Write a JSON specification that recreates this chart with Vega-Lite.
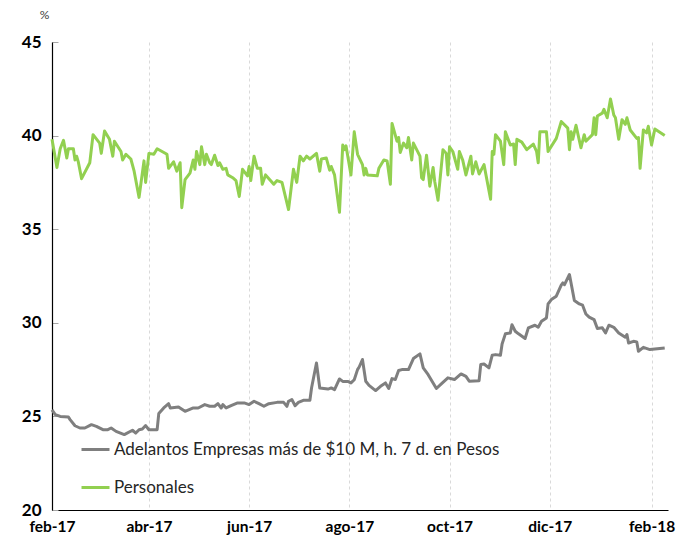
{
  "$schema": "https://vega.github.io/schema/vega-lite/v6.json",
  "width": 616,
  "height": 468,
  "autosize": {"type": "none"},
  "padding": {"left": 52, "top": 42, "right": 23, "bottom": 30},
  "background": "white",
  "config": {
    "view": {"stroke": null},
    "font": "Lato"
  },
  "layer": [
    {
      "data": {"values": [
        {"fecha":"2017-02-01","tasa":25.35},{"fecha":"2017-02-03","tasa":25.1},{"fecha":"2017-02-06","tasa":25.0},{"fecha":"2017-02-11","tasa":24.97},{"fecha":"2017-02-12","tasa":24.83},{"fecha":"2017-02-15","tasa":24.5},{"fecha":"2017-02-18","tasa":24.38},{"fecha":"2017-02-21","tasa":24.38},{"fecha":"2017-02-25","tasa":24.56},{"fecha":"2017-02-28","tasa":24.47},
        {"fecha":"2017-03-04","tasa":24.29},{"fecha":"2017-03-07","tasa":24.29},{"fecha":"2017-03-09","tasa":24.38},{"fecha":"2017-03-12","tasa":24.2},{"fecha":"2017-03-17","tasa":24.03},{"fecha":"2017-03-22","tasa":24.26},{"fecha":"2017-03-24","tasa":24.11},{"fecha":"2017-03-26","tasa":24.29},{"fecha":"2017-03-28","tasa":24.33},{"fecha":"2017-03-30","tasa":24.51},
        {"fecha":"2017-04-01","tasa":24.29},{"fecha":"2017-04-06","tasa":24.29},{"fecha":"2017-04-07","tasa":25.15},{"fecha":"2017-04-10","tasa":25.45},{"fecha":"2017-04-13","tasa":25.68},{"fecha":"2017-04-14","tasa":25.45},{"fecha":"2017-04-19","tasa":25.5},{"fecha":"2017-04-23","tasa":25.27},{"fecha":"2017-04-28","tasa":25.45},
        {"fecha":"2017-05-01","tasa":25.45},{"fecha":"2017-05-05","tasa":25.63},{"fecha":"2017-05-08","tasa":25.54},{"fecha":"2017-05-11","tasa":25.54},{"fecha":"2017-05-13","tasa":25.68},{"fecha":"2017-05-15","tasa":25.45},{"fecha":"2017-05-16","tasa":25.63},{"fecha":"2017-05-18","tasa":25.45},{"fecha":"2017-05-21","tasa":25.57},{"fecha":"2017-05-25","tasa":25.72},{"fecha":"2017-05-29","tasa":25.72},
        {"fecha":"2017-06-01","tasa":25.63},{"fecha":"2017-06-04","tasa":25.81},{"fecha":"2017-06-07","tasa":25.68},{"fecha":"2017-06-10","tasa":25.54},{"fecha":"2017-06-13","tasa":25.68},{"fecha":"2017-06-18","tasa":25.75},{"fecha":"2017-06-22","tasa":25.75},{"fecha":"2017-06-24","tasa":25.54},{"fecha":"2017-06-25","tasa":25.81},{"fecha":"2017-06-27","tasa":25.9},{"fecha":"2017-06-29","tasa":25.57},
        {"fecha":"2017-07-01","tasa":25.75},{"fecha":"2017-07-04","tasa":25.86},{"fecha":"2017-07-08","tasa":25.86},{"fecha":"2017-07-09","tasa":26.52},{"fecha":"2017-07-12","tasa":27.85},{"fecha":"2017-07-14","tasa":26.52},{"fecha":"2017-07-19","tasa":26.46},{"fecha":"2017-07-21","tasa":26.52},{"fecha":"2017-07-23","tasa":26.43},{"fecha":"2017-07-26","tasa":27.0},{"fecha":"2017-07-28","tasa":26.87},{"fecha":"2017-07-31","tasa":26.87},
        {"fecha":"2017-08-02","tasa":26.79},{"fecha":"2017-08-04","tasa":26.96},{"fecha":"2017-08-06","tasa":27.5},{"fecha":"2017-08-07","tasa":27.64},{"fecha":"2017-08-09","tasa":28.04},{"fecha":"2017-08-11","tasa":26.88},{"fecha":"2017-08-13","tasa":26.66},{"fecha":"2017-08-17","tasa":26.38},{"fecha":"2017-08-20","tasa":26.61},{"fecha":"2017-08-23","tasa":26.79},{"fecha":"2017-08-25","tasa":26.49},{"fecha":"2017-08-27","tasa":27.02},{"fecha":"2017-08-29","tasa":26.97},{"fecha":"2017-08-31","tasa":27.45},
        {"fecha":"2017-09-02","tasa":27.5},{"fecha":"2017-09-06","tasa":27.5},{"fecha":"2017-09-09","tasa":28.09},{"fecha":"2017-09-13","tasa":28.34},{"fecha":"2017-09-15","tasa":27.59},{"fecha":"2017-09-18","tasa":27.23},{"fecha":"2017-09-23","tasa":26.49},{"fecha":"2017-09-26","tasa":26.74},{"fecha":"2017-09-30","tasa":27.06},
        {"fecha":"2017-10-04","tasa":26.97},{"fecha":"2017-10-08","tasa":27.27},{"fecha":"2017-10-11","tasa":27.14},{"fecha":"2017-10-13","tasa":26.88},{"fecha":"2017-10-19","tasa":26.91},{"fecha":"2017-10-20","tasa":27.77},{"fecha":"2017-10-22","tasa":27.8},{"fecha":"2017-10-25","tasa":27.59},{"fecha":"2017-10-27","tasa":28.27},{"fecha":"2017-10-29","tasa":28.3},
        {"fecha":"2017-11-01","tasa":28.27},{"fecha":"2017-11-02","tasa":28.87},{"fecha":"2017-11-04","tasa":29.41},{"fecha":"2017-11-07","tasa":29.46},{"fecha":"2017-11-08","tasa":29.9},{"fecha":"2017-11-10","tasa":29.55},{"fecha":"2017-11-12","tasa":29.41},{"fecha":"2017-11-16","tasa":29.16},{"fecha":"2017-11-18","tasa":29.73},{"fecha":"2017-11-22","tasa":29.87},{"fecha":"2017-11-24","tasa":29.76},{"fecha":"2017-11-26","tasa":30.08},{"fecha":"2017-11-29","tasa":30.26},{"fecha":"2017-11-30","tasa":31.01},
        {"fecha":"2017-12-02","tasa":31.24},{"fecha":"2017-12-05","tasa":31.42},{"fecha":"2017-12-08","tasa":32.01},{"fecha":"2017-12-09","tasa":32.13},{"fecha":"2017-12-10","tasa":32.04},{"fecha":"2017-12-13","tasa":32.58},{"fecha":"2017-12-16","tasa":31.19},{"fecha":"2017-12-19","tasa":31.01},{"fecha":"2017-12-21","tasa":30.94},{"fecha":"2017-12-23","tasa":30.47},{"fecha":"2017-12-25","tasa":30.3},{"fecha":"2017-12-28","tasa":30.17},{"fecha":"2017-12-30","tasa":29.69},
        {"fecha":"2018-01-02","tasa":29.73},{"fecha":"2018-01-04","tasa":29.46},{"fecha":"2018-01-06","tasa":29.87},{"fecha":"2018-01-09","tasa":29.76},{"fecha":"2018-01-12","tasa":29.46},{"fecha":"2018-01-16","tasa":29.23},{"fecha":"2018-01-17","tasa":29.37},{"fecha":"2018-01-18","tasa":28.92},{"fecha":"2018-01-21","tasa":29.01},{"fecha":"2018-01-23","tasa":28.98},{"fecha":"2018-01-24","tasa":28.48},{"fecha":"2018-01-27","tasa":28.69},{"fecha":"2018-01-31","tasa":28.57},{"fecha":"2018-02-09","tasa":28.66}
      ]},
      "mark": {"type": "line", "strokeWidth": 3, "strokeJoin": "round"},
      "encoding": {
        "x": {"field": "fecha", "type": "temporal"},
        "y": {"field": "tasa", "type": "quantitative"},
        "color": {"datum": "Adelantos Empresas más de $10 M, h. 7 d. en Pesos"}
      }
    },
    {
      "data": {"values": [
        {"fecha":"2017-02-01","tasa":39.8},{"fecha":"2017-02-04","tasa":38.3},{"fecha":"2017-02-06","tasa":39.3},{"fecha":"2017-02-08","tasa":39.75},{"fecha":"2017-02-10","tasa":38.8},{"fecha":"2017-02-11","tasa":39.3},{"fecha":"2017-02-14","tasa":39.3},{"fecha":"2017-02-15","tasa":38.7},{"fecha":"2017-02-16","tasa":38.9},{"fecha":"2017-02-17","tasa":38.6},{"fecha":"2017-02-19","tasa":37.7},{"fecha":"2017-02-24","tasa":38.55},{"fecha":"2017-02-26","tasa":40.05},
        {"fecha":"2017-03-02","tasa":39.6},{"fecha":"2017-03-03","tasa":39.05},{"fecha":"2017-03-05","tasa":40.25},{"fecha":"2017-03-08","tasa":39.8},{"fecha":"2017-03-10","tasa":38.9},{"fecha":"2017-03-11","tasa":39.7},{"fecha":"2017-03-15","tasa":39.15},{"fecha":"2017-03-16","tasa":38.7},{"fecha":"2017-03-18","tasa":39.0},{"fecha":"2017-03-21","tasa":38.75},{"fecha":"2017-03-23","tasa":38.1},{"fecha":"2017-03-26","tasa":36.7},{"fecha":"2017-03-29","tasa":38.65},{"fecha":"2017-03-30","tasa":37.5},
        {"fecha":"2017-04-01","tasa":39.05},{"fecha":"2017-04-04","tasa":39.0},{"fecha":"2017-04-06","tasa":39.3},{"fecha":"2017-04-12","tasa":39.0},{"fecha":"2017-04-13","tasa":38.25},{"fecha":"2017-04-16","tasa":38.6},{"fecha":"2017-04-18","tasa":38.1},{"fecha":"2017-04-20","tasa":38.55},{"fecha":"2017-04-21","tasa":36.15},{"fecha":"2017-04-23","tasa":37.65},{"fecha":"2017-04-26","tasa":38.0},{"fecha":"2017-04-28","tasa":38.7},{"fecha":"2017-04-29","tasa":38.2},{"fecha":"2017-04-30","tasa":39.15},
        {"fecha":"2017-05-02","tasa":38.45},{"fecha":"2017-05-03","tasa":39.4},{"fecha":"2017-05-05","tasa":38.45},{"fecha":"2017-05-06","tasa":39.0},{"fecha":"2017-05-08","tasa":38.55},{"fecha":"2017-05-09","tasa":38.45},{"fecha":"2017-05-11","tasa":38.95},{"fecha":"2017-05-13","tasa":38.4},{"fecha":"2017-05-14","tasa":38.55},{"fecha":"2017-05-16","tasa":38.2},{"fecha":"2017-05-18","tasa":38.25},{"fecha":"2017-05-19","tasa":37.9},{"fecha":"2017-05-22","tasa":37.75},{"fecha":"2017-05-24","tasa":37.6},{"fecha":"2017-05-26","tasa":36.75},{"fecha":"2017-05-28","tasa":38.2},{"fecha":"2017-05-31","tasa":37.85},
        {"fecha":"2017-06-01","tasa":38.35},{"fecha":"2017-06-02","tasa":37.6},{"fecha":"2017-06-04","tasa":38.9},{"fecha":"2017-06-06","tasa":38.25},{"fecha":"2017-06-08","tasa":38.25},{"fecha":"2017-06-09","tasa":37.4},{"fecha":"2017-06-11","tasa":37.9},{"fecha":"2017-06-14","tasa":37.6},{"fecha":"2017-06-16","tasa":37.4},{"fecha":"2017-06-18","tasa":37.6},{"fecha":"2017-06-21","tasa":37.5},{"fecha":"2017-06-25","tasa":36.05},{"fecha":"2017-06-28","tasa":38.2},{"fecha":"2017-06-30","tasa":37.5},
        {"fecha":"2017-07-02","tasa":38.9},{"fecha":"2017-07-04","tasa":38.65},{"fecha":"2017-07-06","tasa":38.9},{"fecha":"2017-07-08","tasa":38.75},{"fecha":"2017-07-12","tasa":39.05},{"fecha":"2017-07-14","tasa":38.1},{"fecha":"2017-07-15","tasa":38.75},{"fecha":"2017-07-18","tasa":38.8},{"fecha":"2017-07-20","tasa":38.15},{"fecha":"2017-07-21","tasa":38.35},{"fecha":"2017-07-23","tasa":37.9},{"fecha":"2017-07-26","tasa":35.9},{"fecha":"2017-07-28","tasa":39.5},{"fecha":"2017-07-29","tasa":39.25},{"fecha":"2017-07-30","tasa":39.45},
        {"fecha":"2017-08-02","tasa":37.9},{"fecha":"2017-08-04","tasa":40.2},{"fecha":"2017-08-06","tasa":39.0},{"fecha":"2017-08-09","tasa":38.45},{"fecha":"2017-08-10","tasa":37.9},{"fecha":"2017-08-11","tasa":38.25},{"fecha":"2017-08-12","tasa":37.9},{"fecha":"2017-08-18","tasa":37.85},{"fecha":"2017-08-19","tasa":38.25},{"fecha":"2017-08-22","tasa":38.7},{"fecha":"2017-08-24","tasa":38.65},{"fecha":"2017-08-26","tasa":37.4},{"fecha":"2017-08-27","tasa":40.65},{"fecha":"2017-08-30","tasa":39.7},{"fecha":"2017-08-31","tasa":39.9},
        {"fecha":"2017-09-01","tasa":39.1},{"fecha":"2017-09-03","tasa":39.6},{"fecha":"2017-09-05","tasa":39.35},{"fecha":"2017-09-06","tasa":39.9},{"fecha":"2017-09-08","tasa":38.7},{"fecha":"2017-09-09","tasa":39.6},{"fecha":"2017-09-13","tasa":38.9},{"fecha":"2017-09-14","tasa":37.75},{"fecha":"2017-09-15","tasa":37.65},{"fecha":"2017-09-17","tasa":38.95},{"fecha":"2017-09-19","tasa":37.3},{"fecha":"2017-09-21","tasa":38.3},{"fecha":"2017-09-22","tasa":37.55},{"fecha":"2017-09-24","tasa":36.55},{"fecha":"2017-09-27","tasa":39.25},{"fecha":"2017-09-29","tasa":39.05},{"fecha":"2017-09-30","tasa":37.9},
        {"fecha":"2017-10-01","tasa":39.4},{"fecha":"2017-10-03","tasa":39.15},{"fecha":"2017-10-06","tasa":38.2},{"fecha":"2017-10-07","tasa":39.15},{"fecha":"2017-10-09","tasa":38.7},{"fecha":"2017-10-11","tasa":37.9},{"fecha":"2017-10-14","tasa":38.9},{"fecha":"2017-10-15","tasa":37.95},{"fecha":"2017-10-17","tasa":38.6},{"fecha":"2017-10-19","tasa":37.95},{"fecha":"2017-10-22","tasa":38.45},{"fecha":"2017-10-26","tasa":36.6},{"fecha":"2017-10-27","tasa":39.15},{"fecha":"2017-10-28","tasa":39.0},{"fecha":"2017-10-29","tasa":40.05},
        {"fecha":"2017-11-01","tasa":39.7},{"fecha":"2017-11-03","tasa":38.45},{"fecha":"2017-11-04","tasa":40.2},{"fecha":"2017-11-07","tasa":39.5},{"fecha":"2017-11-09","tasa":39.55},{"fecha":"2017-11-10","tasa":38.45},{"fecha":"2017-11-11","tasa":39.8},{"fecha":"2017-11-14","tasa":39.65},{"fecha":"2017-11-17","tasa":39.25},{"fecha":"2017-11-21","tasa":39.55},{"fecha":"2017-11-23","tasa":39.15},{"fecha":"2017-11-24","tasa":38.55},{"fecha":"2017-11-25","tasa":40.2},{"fecha":"2017-11-29","tasa":40.2},{"fecha":"2017-11-30","tasa":39.15},
        {"fecha":"2017-12-05","tasa":39.85},{"fecha":"2017-12-08","tasa":40.75},{"fecha":"2017-12-12","tasa":40.4},{"fecha":"2017-12-13","tasa":39.25},{"fecha":"2017-12-14","tasa":40.2},{"fecha":"2017-12-15","tasa":39.8},{"fecha":"2017-12-17","tasa":40.55},{"fecha":"2017-12-20","tasa":39.35},{"fecha":"2017-12-22","tasa":40.05},{"fecha":"2017-12-23","tasa":39.7},{"fecha":"2017-12-27","tasa":40.05},{"fecha":"2017-12-28","tasa":40.95},{"fecha":"2017-12-29","tasa":40.05},{"fecha":"2017-12-30","tasa":41.05},
        {"fecha":"2018-01-02","tasa":41.2},{"fecha":"2018-01-03","tasa":41.4},{"fecha":"2018-01-05","tasa":40.95},{"fecha":"2018-01-07","tasa":41.95},{"fecha":"2018-01-09","tasa":41.1},{"fecha":"2018-01-10","tasa":40.95},{"fecha":"2018-01-12","tasa":39.8},{"fecha":"2018-01-14","tasa":40.85},{"fecha":"2018-01-16","tasa":40.6},{"fecha":"2018-01-17","tasa":40.95},{"fecha":"2018-01-19","tasa":40.3},{"fecha":"2018-01-23","tasa":39.85},{"fecha":"2018-01-24","tasa":39.9},{"fecha":"2018-01-25","tasa":38.25},{"fecha":"2018-01-27","tasa":40.3},{"fecha":"2018-01-29","tasa":40.15},{"fecha":"2018-01-30","tasa":40.5},
        {"fecha":"2018-02-01","tasa":39.5},{"fecha":"2018-02-03","tasa":40.35},{"fecha":"2018-02-09","tasa":40.0}
      ]},
      "mark": {"type": "line", "strokeWidth": 3, "strokeJoin": "round"},
      "encoding": {
        "x": {"field": "fecha", "type": "temporal"},
        "y": {"field": "tasa", "type": "quantitative"},
        "color": {"datum": "Personales"}
      }
    }
  ],
  "resolve": {"scale": {"x": "shared", "y": "shared", "color": "shared"}},
  "encoding": {
    "x": {
      "field": "fecha", "type": "temporal",
      "scale": {"type": "utc", "domain": [{"year": 2017, "month": 2, "date": 1, "utc": true}, {"year": 2018, "month": 2, "date": 11, "utc": true}], "nice": false},
      "axis": {
        "title": null,
        "values": [
          {"year": 2017, "month": 2, "date": 1, "utc": true},
          {"year": 2017, "month": 4, "date": 1, "utc": true},
          {"year": 2017, "month": 6, "date": 1, "utc": true},
          {"year": 2017, "month": 8, "date": 1, "utc": true},
          {"year": 2017, "month": 10, "date": 1, "utc": true},
          {"year": 2017, "month": 12, "date": 1, "utc": true},
          {"year": 2018, "month": 2, "date": 1, "utc": true}
        ],
        "labelExpr": "['ene','feb','mar','abr','may','jun','jul','ago','sep','oct','nov','dic'][utcmonth(datum.value)] + '-' + utcFormat(datum.value, '%y')",
        "labelFont": "Lato", "labelFontSize": 15.5, "labelFontWeight": "bold", "labelColor": "#000000",
        "labelPadding": 9, "labelFlush": false, "labelOverlap": false,
        "ticks": false,
        "domainColor": "#000000", "domainWidth": 1.2,
        "grid": true, "gridColor": "#D9D9D9", "gridDash": [3, 3], "gridWidth": 1
      }
    },
    "y": {
      "field": "tasa", "type": "quantitative",
      "scale": {"domain": [20, 45], "nice": false, "zero": false},
      "axis": {
        "title": "%", "titleAngle": 0, "titleX": -8, "titleY": -28, "titleAlign": "center", "titleBaseline": "middle",
        "titleFont": "Lato", "titleFontSize": 12, "titleFontWeight": "normal", "titleColor": "#404040",
        "values": [20, 25, 30, 35, 40, 45],
        "labelFont": "Lato", "labelFontSize": 17, "labelFontWeight": "bold", "labelColor": "#000000",
        "labelPadding": 17,
        "tickSize": -6, "tickColor": "#A6A6A6",
        "domainColor": "#000000", "domainWidth": 1.2,
        "grid": false
      }
    },
    "color": {
      "type": "nominal",
      "scale": {"domain": ["Adelantos Empresas más de $10 M, h. 7 d. en Pesos", "Personales"], "range": ["#7F7F7F", "#92D050"]},
      "legend": {
        "title": null, "orient": "none", "legendX": 28, "legendY": 392,
        "symbolType": "stroke", "symbolSize": 784, "symbolStrokeWidth": 3,
        "labelFont": "Lato", "labelFontSize": 17, "labelColor": "#262626", "labelLimit": 500, "labelOffset": 3,
        "rowPadding": 14
      }
    }
  }
}
